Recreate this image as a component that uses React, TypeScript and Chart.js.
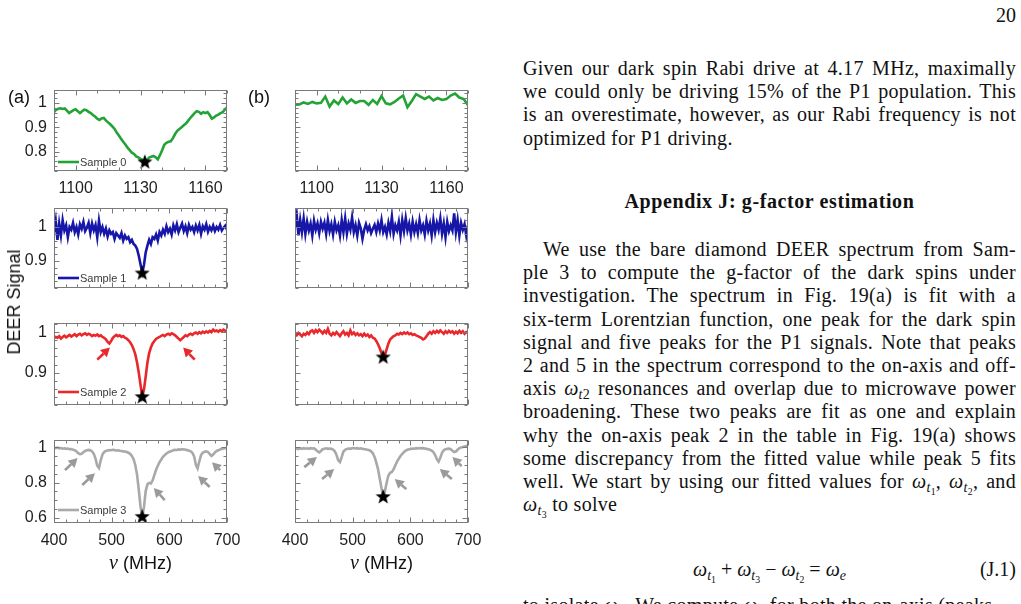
import React, { useEffect, useRef } from "react";
import { Chart, registerables } from "chart.js";

Chart.register(...registerables);

// ---------- frequency grids (MHz) ----------
const freqHighFine = [
  1090, 1091, 1092, 1093, 1094, 1095, 1096, 1097, 1098, 1099,
  1100, 1101, 1102, 1103, 1104, 1105, 1106, 1107, 1108, 1109,
  1110, 1111, 1112, 1113, 1114, 1115, 1116, 1117, 1118, 1119,
  1120, 1121, 1122, 1123, 1124, 1125, 1126, 1127, 1128, 1129,
  1130, 1131, 1132, 1133, 1134, 1135, 1136, 1137, 1138, 1139,
  1140, 1141, 1142, 1143, 1144, 1145, 1146, 1147, 1148, 1149,
  1150, 1151, 1152, 1153, 1154, 1155, 1156, 1157, 1158, 1159,
  1160, 1161, 1162, 1163, 1164, 1165, 1166, 1167, 1168, 1169,
  1170,
];
const freqHighCoarse = [
  1090, 1092, 1094, 1096, 1098, 1100, 1102, 1104, 1106, 1108,
  1110, 1112, 1114, 1116, 1118, 1120, 1122, 1124, 1126, 1128,
  1130, 1132, 1134, 1136, 1138, 1140, 1142, 1144, 1146, 1148,
  1150, 1152, 1154, 1156, 1158, 1160, 1162, 1164, 1166, 1168,
  1170,
];
const freqLow = [
  400, 403, 406, 409, 412, 415, 418, 421, 424, 427,
  430, 433, 436, 439, 442, 445, 448, 451, 454, 457,
  460, 463, 466, 469, 472, 475, 478, 481, 484, 487,
  490, 493, 496, 499, 502, 505, 508, 511, 514, 517,
  520, 523, 526, 529, 532, 535, 538, 541, 544, 547,
  550, 553, 556, 559, 562, 565, 568, 571, 574, 577,
  580, 583, 586, 589, 592, 595, 598, 601, 604, 607,
  610, 613, 616, 619, 622, 625, 628, 631, 634, 637,
  640, 643, 646, 649, 652, 655, 658, 661, 664, 667,
  670, 673, 676, 679, 682, 685, 688, 691, 694, 697,
  700,
];

// ---------- DEER signal, column (a) ----------
const sample0A = [
  0.962, 0.972, 0.976, 0.978, 0.975, 0.977, 0.968, 0.958, 0.964, 0.970,
  0.974, 0.966, 0.958, 0.966, 0.972, 0.970, 0.963, 0.958, 0.950, 0.944,
  0.935, 0.930, 0.936, 0.938, 0.928, 0.920, 0.912, 0.903, 0.893, 0.878,
  0.866, 0.853, 0.840, 0.829, 0.816, 0.806, 0.795, 0.790, 0.780, 0.776,
  0.770, 0.766, 0.760, 0.764, 0.775, 0.779, 0.782, 0.776, 0.768, 0.785,
  0.805, 0.828, 0.836, 0.840, 0.842, 0.855, 0.872, 0.885, 0.893, 0.900,
  0.908, 0.915, 0.926, 0.938, 0.948, 0.958, 0.966, 0.963, 0.955, 0.962,
  0.958, 0.962, 0.950, 0.935, 0.940, 0.948, 0.952, 0.958, 0.962, 0.972,
  0.982,
];
const sample1A = [
  0.985, 1.018, 0.962, 1.010, 0.975, 1.020, 0.990, 1.005, 0.970, 1.000,
  0.992, 1.012, 0.985, 1.000, 0.978, 1.008, 0.995, 1.015, 0.988, 0.998,
  1.012, 0.982, 1.010, 0.990, 1.006, 0.970, 1.018, 0.985, 1.000, 0.980,
  0.995, 0.972, 0.990, 0.980, 0.985, 0.965, 0.982, 0.975, 0.968, 0.982,
  0.960, 0.975, 0.965, 0.970, 0.955, 0.962, 0.950, 0.945, 0.935, 0.915,
  0.890, 0.866, 0.888, 0.925, 0.945, 0.962, 0.950, 0.970, 0.965, 0.978,
  0.960, 0.985, 0.975, 0.992, 0.980, 1.002, 0.985, 0.995, 0.978, 1.005,
  0.990, 1.008, 0.985, 0.998, 1.010, 0.988, 1.002, 0.982, 1.006, 0.992,
  1.000, 0.985, 1.004, 0.990, 1.006, 0.980, 1.002, 0.992, 1.008, 0.986,
  1.000, 0.990, 1.004, 0.988, 1.000, 0.992, 1.006, 0.990, 0.998, 1.004,
  0.992,
];
const sample2A = [
  0.985, 0.988, 0.986, 0.990, 0.984, 0.988, 0.991, 0.987, 0.990, 0.993,
  0.989, 0.992, 0.995, 0.990, 0.994, 0.996, 0.992, 0.995, 0.997, 0.993,
  0.996, 0.994, 0.990, 0.993, 0.991, 0.994, 0.990, 0.992, 0.988, 0.986,
  0.982, 0.976, 0.972, 0.978, 0.986, 0.990, 0.993, 0.990, 0.992, 0.988,
  0.990, 0.986, 0.984, 0.980, 0.975, 0.968, 0.958, 0.945, 0.925, 0.900,
  0.870, 0.842, 0.858, 0.890, 0.925, 0.948, 0.962, 0.972, 0.978, 0.983,
  0.986, 0.988, 0.991, 0.993, 0.990, 0.994, 0.996, 0.993, 0.997, 0.995,
  0.992, 0.988, 0.984, 0.980, 0.984, 0.988, 0.992, 0.990, 0.994, 0.996,
  0.993, 0.997, 0.999, 0.996, 1.000, 0.997, 1.001, 0.998, 1.002, 0.999,
  1.003, 1.000, 1.006, 1.002, 1.004, 1.001, 1.005, 1.002, 1.006, 1.003,
  1.002,
];
const sample3A = [
  0.998, 0.994, 0.997, 0.993, 0.995, 0.991, 0.993, 0.990, 0.992, 0.988,
  0.989, 0.985, 0.982, 0.975, 0.966, 0.960, 0.962, 0.972, 0.978, 0.982,
  0.984, 0.982, 0.976, 0.962, 0.935, 0.895, 0.882, 0.925, 0.958, 0.972,
  0.978, 0.981, 0.983, 0.982, 0.985, 0.983, 0.981, 0.982, 0.979, 0.978,
  0.976, 0.975, 0.972, 0.968, 0.962, 0.950, 0.932, 0.898, 0.845, 0.760,
  0.665, 0.612, 0.660, 0.752, 0.790, 0.798, 0.795, 0.812, 0.842, 0.872,
  0.895, 0.915, 0.930, 0.945, 0.955, 0.964, 0.970, 0.975, 0.978, 0.982,
  0.985, 0.984, 0.987, 0.986, 0.988, 0.987, 0.985, 0.983, 0.980, 0.976,
  0.968, 0.948, 0.900, 0.880, 0.920, 0.955, 0.968, 0.974, 0.976, 0.972,
  0.962, 0.950, 0.958, 0.970, 0.978, 0.982, 0.987, 0.990, 0.992, 0.994,
  0.996,
];

// ---------- DEER signal, column (b) ----------
const sample0B = [
  0.993, 0.994, 1.002, 0.996, 1.004, 0.998, 1.000, 1.026, 0.985, 1.010,
  0.995, 1.022, 0.998, 1.014, 1.000, 1.008, 1.008, 0.992, 1.012, 0.996,
  1.028, 0.998, 0.994, 1.004, 1.018, 1.030, 0.982, 1.008, 1.036, 1.026,
  1.016, 1.026, 1.010, 1.020, 1.012, 1.016, 1.030, 1.038, 1.022, 1.016,
  0.990,
];
const sample1B = [
  1.000, 1.035, 0.975, 1.020, 0.985, 1.025, 0.980, 1.015, 0.990, 1.010,
  0.975, 1.018, 0.992, 1.010, 0.982, 1.015, 0.995, 1.012, 0.980, 1.020,
  0.988, 1.008, 0.978, 1.015, 0.990, 1.005, 0.975, 1.020, 0.985, 1.025,
  0.980, 1.010, 0.992, 1.028, 0.985, 1.005, 0.975, 1.012, 0.996, 0.965,
  0.992, 1.008, 0.990, 1.002, 0.982, 0.995, 1.006, 0.985, 1.010, 0.990,
  1.020, 0.985, 1.000, 0.978, 1.012, 0.988, 1.030, 0.980, 1.005, 0.990,
  1.015, 0.975, 1.020, 0.988, 1.026, 0.990, 1.010, 0.978, 1.015, 0.985,
  1.008, 0.982, 1.020, 0.990, 1.005, 0.978, 1.018, 0.990, 1.010, 0.975,
  1.020, 0.985, 1.012, 0.992, 1.025, 0.980, 1.010, 0.970, 1.015, 0.988,
  1.005, 0.990, 1.040, 0.985, 1.020, 0.975, 1.012, 0.992, 1.008, 0.975,
  1.005,
];
const sample2B = [
  0.996, 0.992, 0.998, 0.994, 0.990, 0.996, 0.993, 0.999, 0.995, 1.002,
  1.004, 0.998, 1.005, 1.000, 1.006, 1.002, 0.997, 1.003, 0.998, 1.008,
  0.996, 0.992, 0.998, 0.994, 1.000, 0.995, 0.990, 0.997, 1.002, 0.994,
  0.998, 0.992, 1.004, 0.995, 0.999, 0.993, 0.997, 0.992, 0.995, 0.990,
  0.996, 0.991, 0.994, 0.988, 0.992, 0.986, 0.984, 0.978, 0.970, 0.960,
  0.948, 0.940, 0.944, 0.958, 0.972, 0.982, 0.986, 0.990, 0.992, 0.996,
  0.994, 0.998, 0.995, 0.999, 0.996, 0.999, 0.995, 0.997, 0.993, 0.995,
  0.992, 0.990, 0.988, 0.986, 0.982, 0.984, 0.990, 0.996, 1.000, 0.996,
  1.002, 0.998, 1.003, 0.999, 1.004, 1.000, 0.996, 1.002, 0.998, 1.003,
  0.999, 1.002, 0.996, 1.001, 0.997, 1.003, 0.998, 1.002, 0.996, 1.000,
  0.998,
];
const sample3B = [
  0.990, 0.992, 0.989, 0.993, 0.990, 0.994, 0.991, 0.993, 0.990, 0.994,
  0.992, 0.993, 0.986, 0.976, 0.970, 0.978, 0.988, 0.991, 0.993, 0.990,
  0.992, 0.990, 0.986, 0.976, 0.955, 0.925, 0.915, 0.945, 0.975, 0.985,
  0.989, 0.992, 0.990, 0.993, 0.995, 0.992, 0.994, 0.991, 0.993, 0.990,
  0.989, 0.987, 0.985, 0.982, 0.976, 0.965, 0.945, 0.912, 0.875, 0.822,
  0.768, 0.724, 0.752, 0.800, 0.840, 0.855, 0.860, 0.875, 0.898, 0.918,
  0.935, 0.950, 0.962, 0.972, 0.980, 0.985, 0.988, 0.990, 0.992, 0.991,
  0.994, 0.992, 0.995, 0.993, 0.994, 0.992, 0.990, 0.988, 0.985, 0.980,
  0.972, 0.955, 0.932, 0.918, 0.940, 0.968, 0.982, 0.988, 0.990, 0.991,
  0.988, 0.980, 0.972, 0.975, 0.985, 0.994, 0.998, 1.000, 1.003, 1.006,
  1.008,
];

// ---------- starred dark-spin dips [MHz, signal] ----------
const dip0A = [1132, 0.76];
const dip1A = [553, 0.866];
const dip2A = [553, 0.842];
const dip3A = [553, 0.612];
const dip2B = [553, 0.94];
const dip3B = [553, 0.724];

// ---------- arrows to P1 lines [fromMHz, fromSignal, toMHz, toSignal] ----------
const arrows2A = [
  [475, 0.932, 497, 0.962],
  [644, 0.932, 624, 0.962],
];
const arrows3A = [
  [419, 0.87, 441, 0.938],
  [449, 0.786, 471, 0.853],
  [592, 0.701, 573, 0.769],
  [670, 0.775, 650, 0.837],
  [688, 0.87, 674, 0.915],
];
const arrows3B = [
  [416, 0.887, 438, 0.944],
  [447, 0.82, 468, 0.876],
  [593, 0.763, 573, 0.82],
  [672, 0.82, 651, 0.876],
  [689, 0.893, 673, 0.944],
];

// ---------- axis ticks ----------
const highFreqTicks = [1100, 1130, 1160];
const lowFreqTicks = [400, 500, 600, 700];
const signalTicksRow1 = [0.8, 0.9, 1];
const signalTicksRow2 = [0.9, 1];
const signalTicksRow3 = [0.9, 1];
const signalTicksRow4 = [0.6, 0.8, 1];

const SANS = '"Liberation Sans", Arial, Helvetica, sans-serif';
const SERIF = '"Liberation Serif", "Times New Roman", serif';

const GREEN = "#23a336";
const BLUE = "#1616a8";
const RED = "#e8282b";
const GRAY = "#a9a9a9";
const ARROW_GRAY = "#9a9a9a";

type PanelSpec = {
  left: number;
  frameTop: number;
  frameH: number;
  xs: number[];
  ys: number[];
  color: string;
  xMin: number;
  xMax: number;
  yMin: number;
  yMax: number;
  xTicks: number[];
  xMinor: number;
  yTicks: number[];
  yMinor: number;
  showX: boolean;
  showY: boolean;
  legend?: string;
  legendDy?: number;
  star?: number[];
  arrows?: number[][];
  arrowColor?: string;
};

const PAD_TOP = 22;
const PAD_RIGHT = 24;
const Y_AXIS_W = 54;
const PLOT_W = 173;

const COL_A = 0;
const COL_B = 241;

const panels: PanelSpec[] = [
  {
    left: COL_A, frameTop: 90, frameH: 81, xs: freqHighFine, ys: sample0A, color: GREEN,
    xMin: 1090, xMax: 1170, yMin: 0.72, yMax: 1.053, xTicks: highFreqTicks, xMinor: 10,
    yTicks: signalTicksRow1, yMinor: 0.02, showX: true, showY: true,
    legend: "Sample 0", legendDy: 9, star: dip0A,
  },
  {
    left: COL_B, frameTop: 90, frameH: 81, xs: freqHighCoarse, ys: sample0B, color: GREEN,
    xMin: 1090, xMax: 1170, yMin: 0.72, yMax: 1.053, xTicks: highFreqTicks, xMinor: 10,
    yTicks: signalTicksRow1, yMinor: 0.02, showX: true, showY: false,
  },
  {
    left: COL_A, frameTop: 208, frameH: 80, xs: freqLow, ys: sample1A, color: BLUE,
    xMin: 400, xMax: 700, yMin: 0.82, yMax: 1.056, xTicks: lowFreqTicks, xMinor: 20,
    yTicks: signalTicksRow2, yMinor: 0.02, showX: false, showY: true,
    legend: "Sample 1", legendDy: 10, star: dip1A,
  },
  {
    left: COL_B, frameTop: 208, frameH: 80, xs: freqLow, ys: sample1B, color: BLUE,
    xMin: 400, xMax: 700, yMin: 0.82, yMax: 1.056, xTicks: lowFreqTicks, xMinor: 20,
    yTicks: signalTicksRow2, yMinor: 0.02, showX: false, showY: false,
  },
  {
    left: COL_A, frameTop: 323, frameH: 82, xs: freqLow, ys: sample2A, color: RED,
    xMin: 400, xMax: 700, yMin: 0.82, yMax: 1.0225, xTicks: lowFreqTicks, xMinor: 20,
    yTicks: signalTicksRow3, yMinor: 0.02, showX: false, showY: true,
    legend: "Sample 2", legendDy: 13, star: dip2A, arrows: arrows2A, arrowColor: RED,
  },
  {
    left: COL_B, frameTop: 323, frameH: 82, xs: freqLow, ys: sample2B, color: RED,
    xMin: 400, xMax: 700, yMin: 0.82, yMax: 1.0225, xTicks: lowFreqTicks, xMinor: 20,
    yTicks: signalTicksRow3, yMinor: 0.02, showX: false, showY: false, star: dip2B,
  },
  {
    left: COL_A, frameTop: 440, frameH: 83, xs: freqLow, ys: sample3A, color: GRAY,
    xMin: 400, xMax: 700, yMin: 0.572, yMax: 1.04, xTicks: lowFreqTicks, xMinor: 20,
    yTicks: signalTicksRow4, yMinor: 0.05, showX: true, showY: true,
    legend: "Sample 3", legendDy: 13, star: dip3A, arrows: arrows3A, arrowColor: ARROW_GRAY,
  },
  {
    left: COL_B, frameTop: 440, frameH: 83, xs: freqLow, ys: sample3B, color: GRAY,
    xMin: 400, xMax: 700, yMin: 0.572, yMax: 1.04, xTicks: lowFreqTicks, xMinor: 20,
    yTicks: signalTicksRow4, yMinor: 0.05, showX: true, showY: false,
    star: dip3B, arrows: arrows3B, arrowColor: ARROW_GRAY,
  },
];

function makeStar(size: number): HTMLCanvasElement {
  const c = document.createElement("canvas");
  c.width = size;
  c.height = size;
  const g = c.getContext("2d")!;
  const cx = size / 2;
  const cy = size / 2 + size * 0.06;
  const R = size / 2;
  const r = R * 0.42;
  g.fillStyle = "#000";
  g.beginPath();
  for (let i = 0; i < 10; i++) {
    const a = -Math.PI / 2 + (i * Math.PI) / 5;
    const rad = i % 2 ? r : R;
    const px = cx + rad * Math.cos(a);
    const py = cy + rad * Math.sin(a);
    if (i === 0) g.moveTo(px, py);
    else g.lineTo(px, py);
  }
  g.closePath();
  g.fill();
  return c;
}

function drawArrow(ctx: CanvasRenderingContext2D, x0: number, y0: number, x1: number, y1: number, color: string) {
  const ang = Math.atan2(y1 - y0, x1 - x0);
  const head = 9;
  const hw = 5;
  const bx = x1 - head * Math.cos(ang);
  const by = y1 - head * Math.sin(ang);
  ctx.save();
  ctx.strokeStyle = color;
  ctx.fillStyle = color;
  ctx.lineWidth = 2.6;
  ctx.lineCap = "butt";
  ctx.beginPath();
  ctx.moveTo(x0, y0);
  ctx.lineTo(bx, by);
  ctx.stroke();
  ctx.beginPath();
  ctx.moveTo(x1, y1);
  ctx.lineTo(bx + hw * Math.sin(ang), by - hw * Math.cos(ang));
  ctx.lineTo(bx - hw * Math.sin(ang), by + hw * Math.cos(ang));
  ctx.closePath();
  ctx.fill();
  ctx.restore();
}

function minorValues(min: number, max: number, step: number): number[] {
  const out: number[] = [];
  const start = Math.ceil(min / step - 1e-9);
  const end = Math.floor(max / step + 1e-9);
  for (let k = start; k <= end; k++) out.push(k * step);
  return out;
}

function fmt(v: number): string {
  return String(Math.round(v * 100) / 100);
}

function Panel({ spec }: { spec: PanelSpec }) {
  const ref = useRef<HTMLCanvasElement>(null);
  const xAxisH = spec.showX ? 34 : 22;
  const width = Y_AXIS_W + PLOT_W + PAD_RIGHT;
  const height = PAD_TOP + spec.frameH + xAxisH;

  useEffect(() => {
    const canvas = ref.current;
    if (!canvas) return;
    const star = makeStar(16);

    const decor = {
      id: "panelDecor",
      afterDatasetsDraw(chart: any) {
        const ctx: CanvasRenderingContext2D = chart.ctx;
        const area = chart.chartArea;
        const xs = chart.scales.x;
        const ys = chart.scales.y;
        ctx.save();

        // arrows pointing at the P1 lines
        if (spec.arrows) {
          for (const a of spec.arrows) {
            drawArrow(
              ctx,
              xs.getPixelForValue(a[0]),
              ys.getPixelForValue(a[1]),
              xs.getPixelForValue(a[2]),
              ys.getPixelForValue(a[3]),
              spec.arrowColor || "#999"
            );
          }
        }

        // frame
        const L = Math.round(area.left) + 0.5;
        const T = Math.round(area.top) + 0.5;
        const Rr = Math.round(area.right) - 0.5;
        const B = Math.round(area.bottom) - 0.5;
        ctx.strokeStyle = "#7a7a7a";
        ctx.lineWidth = 1;
        ctx.strokeRect(L, T, Rr - L, B - T);

        // inward ticks on all four sides
        const major = 5;
        const minor = 3;
        ctx.beginPath();
        for (const v of minorValues(spec.xMin, spec.xMax, spec.xMinor)) {
          const isMajor = spec.xTicks.some((t) => Math.abs(t - v) < 1e-6);
          const len = isMajor ? major : minor;
          const px = Math.round(xs.getPixelForValue(v)) + 0.5;
          ctx.moveTo(px, B);
          ctx.lineTo(px, B - len);
          ctx.moveTo(px, T);
          ctx.lineTo(px, T + len);
        }
        for (const v of minorValues(spec.yMin, spec.yMax, spec.yMinor)) {
          const isMajor = spec.yTicks.some((t) => Math.abs(t - v) < 1e-6);
          const len = isMajor ? major : minor;
          const py = Math.round(ys.getPixelForValue(v)) + 0.5;
          ctx.moveTo(L, py);
          ctx.lineTo(L + len, py);
          ctx.moveTo(Rr, py);
          ctx.lineTo(Rr - len, py);
        }
        ctx.stroke();

        // in-plot legend
        if (spec.legend) {
          const ly = area.bottom - (spec.legendDy || 10);
          ctx.strokeStyle = spec.color;
          ctx.lineWidth = 2.6;
          ctx.beginPath();
          ctx.moveTo(area.left + 4, ly);
          ctx.lineTo(area.left + 25, ly);
          ctx.stroke();
          ctx.fillStyle = "#3a3a3a";
          ctx.font = `11px ${SANS}`;
          ctx.textBaseline = "middle";
          ctx.textAlign = "left";
          ctx.fillText(spec.legend, area.left + 26, ly + 0.5);
        }
        ctx.restore();
      },
    };

    const datasets: any[] = [
      {
        data: spec.xs.map((x, i) => ({ x, y: spec.ys[i] })),
        showLine: true,
        borderColor: spec.color,
        borderWidth: 2.6,
        pointRadius: 0,
        tension: 0,
        order: 1,
      },
    ];
    if (spec.star) {
      datasets.push({
        data: [{ x: spec.star[0], y: spec.star[1] }],
        showLine: false,
        pointStyle: star,
        pointRadius: 8,
        order: 0,
      });
    }

    const tickFont = { family: SANS, size: 16 };
    const chart = new Chart(canvas, {
      type: "scatter",
      data: { datasets },
      options: {
        responsive: false,
        maintainAspectRatio: false,
        animation: false,
        devicePixelRatio: 1,
        events: [],
        layout: { padding: { top: PAD_TOP, right: PAD_RIGHT, left: 0, bottom: 0 } },
        plugins: { legend: { display: false }, tooltip: { enabled: false } },
        scales: {
          x: {
            type: "linear",
            min: spec.xMin,
            max: spec.xMax,
            grid: { display: false, drawTicks: false },
            border: { display: false },
            ticks: {
              display: spec.showX,
              font: tickFont,
              color: "#1e1e1e",
              padding: 8,
              maxRotation: 0,
              autoSkip: false,
              callback: (v: any) => String(v),
            },
            afterBuildTicks: (s: any) => {
              s.ticks = spec.xTicks.map((v) => ({ value: v }));
            },
            afterFit: (s: any) => {
              s.height = xAxisH;
            },
          },
          y: {
            type: "linear",
            min: spec.yMin,
            max: spec.yMax,
            grid: { display: false, drawTicks: false },
            border: { display: false },
            ticks: {
              display: spec.showY,
              font: tickFont,
              color: "#1e1e1e",
              padding: 7,
              autoSkip: false,
              callback: (v: any) => fmt(Number(v)),
            },
            afterBuildTicks: (s: any) => {
              s.ticks = spec.yTicks.map((v) => ({ value: v }));
            },
            afterFit: (s: any) => {
              s.width = Y_AXIS_W;
            },
          },
        },
      } as any,
      plugins: [decor],
    });
    return () => chart.destroy();
  }, []);

  return (
    <canvas
      ref={ref}
      width={width}
      height={height}
      style={{
        position: "absolute",
        left: spec.left,
        top: spec.frameTop - PAD_TOP,
        width,
        height,
      }}
    />
  );
}

// ---------- page text ----------
const subStyle: React.CSSProperties = { fontSize: "0.7em", verticalAlign: "-0.3em", lineHeight: 0 };

const Om = ({ children }: { children: React.ReactNode }) => (
  <span style={{ whiteSpace: "nowrap" }}>
    <i>ω</i>
    <sub style={subStyle}>{children}</sub>
  </span>
);
const T = ({ n }: { n: string }) => (
  <>
    <i>t</i>
    <sub style={subStyle}>{n}</sub>
  </>
);

const TEXT_LEFT = 523;
const TEXT_W = 493;
const LINE_H = 23.2;

function TextLine({ center, children, last, indent = 0 }: { center: number; children: React.ReactNode; last?: boolean; indent?: number }) {
  return (
    <div
      style={{
        position: "absolute",
        left: TEXT_LEFT + indent,
        width: TEXT_W - indent,
        top: center - 12,
        height: 24,
        lineHeight: "24px",
        letterSpacing: "0.3px",
        textAlign: last ? "left" : "justify",
        textAlignLast: last ? "left" : "justify",
      } as React.CSSProperties}
    >
      {children}
    </div>
  );
}

const para1: React.ReactNode[] = [
  "Given our dark spin Rabi drive at 4.17 MHz, maximally",
  "we could only be driving 15% of the P1 population. This",
  "is an overestimate, however, as our Rabi frequency is not",
  "optimized for P1 driving.",
];

const para2: React.ReactNode[] = [
  "We use the bare diamond DEER spectrum from Sam-",
  "ple 3 to compute the g-factor of the dark spins under",
  "investigation. The spectrum in Fig. 19(a) is fit with a",
  "six-term Lorentzian function, one peak for the dark spin",
  "signal and five peaks for the P1 signals. Note that peaks",
  "2 and 5 in the spectrum correspond to the on-axis and off-",
  <>
    axis <Om>
      <i>t</i>2
    </Om>{" "}
    resonances and overlap due to microwave power
  </>,
  "broadening. These two peaks are fit as one and explain",
  "why the on-axis peak 2 in the table in Fig. 19(a) shows",
  "some discrepancy from the fitted value while peak 5 fits",
  <>
    well. We start by using our fitted values for <Om><T n="1" /></Om>, <Om><T n="2" /></Om>, and
  </>,
  <>
    <Om><T n="3" /></Om> to solve
  </>,
];

export default function App() {
  return (
    <div
      style={{
        position: "absolute",
        left: 0,
        top: 0,
        width: 1021,
        height: 604,
        overflow: "hidden",
        background: "#fff",
        color: "#111",
      }}
    >
      {panels.map((p, i) => (
        <Panel key={i} spec={p} />
      ))}

      {/* panel tags */}
      <div style={{ position: "absolute", left: 8, top: 86, fontFamily: SANS, fontSize: 18, lineHeight: "22px", color: "#111" }}>(a)</div>
      <div style={{ position: "absolute", left: 248, top: 86, fontFamily: SANS, fontSize: 18, lineHeight: "22px", color: "#111" }}>(b)</div>

      {/* shared y-axis title */}
      <div
        style={{
          position: "absolute",
          left: 14,
          top: 302,
          transform: "translate(-50%, -50%) rotate(-90deg)",
          whiteSpace: "nowrap",
          fontFamily: SANS,
          fontSize: 18,
          lineHeight: "20px",
          color: "#111",
        }}
      >
        DEER Signal
      </div>

      {/* x-axis titles */}
      {[140.5, 381.5].map((cx, i) => (
        <div
          key={i}
          style={{
            position: "absolute",
            left: cx,
            top: 562,
            transform: "translate(-50%, -50%)",
            whiteSpace: "nowrap",
            fontFamily: SANS,
            fontSize: 18,
            lineHeight: "22px",
            color: "#111",
          }}
        >
          <span style={{ fontFamily: SERIF, fontStyle: "italic", fontSize: 20 }}>ν</span> (MHz)
        </div>
      ))}

      {/* right-hand column of the page */}
      <div style={{ fontFamily: SERIF, fontSize: 20, color: "#111" }}>
        <div style={{ position: "absolute", right: 5, top: 3, lineHeight: "24px" }}>20</div>
        {para1.map((t, i) => (
          <TextLine key={"p1" + i} center={68 + i * LINE_H} last={i === para1.length - 1}>
            {t}
          </TextLine>
        ))}
        <div
          style={{
            position: "absolute",
            left: TEXT_LEFT,
            width: TEXT_W,
            top: 189,
            lineHeight: "24px",
            textAlign: "center",
            fontWeight: "bold",
            fontSize: 20,
            letterSpacing: "0.6px",
          }}
        >
          Appendix J: g-factor estimation
        </div>
        {para2.map((t, i) => (
          <TextLine key={"p2" + i} center={249 + i * LINE_H} last={i === para2.length - 1} indent={i === 0 ? 20 : 0}>
            {t}
          </TextLine>
        ))}
        <div style={{ position: "absolute", left: TEXT_LEFT, width: TEXT_W, top: 557, lineHeight: "24px", textAlign: "center" }}>
          <Om><T n="1" /></Om> + <Om><T n="3" /></Om> − <Om><T n="2" /></Om> = <Om><i>e</i></Om>
        </div>
        <div style={{ position: "absolute", right: 5, top: 557, lineHeight: "24px" }}>(J.1)</div>
        <TextLine center={605} last>
          to isolate <Om><i>e</i></Om>. We compute <Om><i>e</i></Om> for both the on-axis (peaks
        </TextLine>
      </div>
    </div>
  );
}
